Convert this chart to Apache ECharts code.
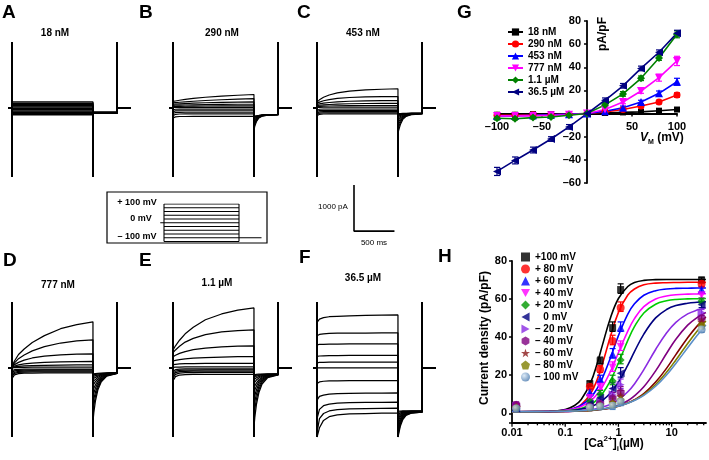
<!DOCTYPE html>
<html><head><meta charset="utf-8">
<script src="https://cdn.jsdelivr.net/npm/echarts@6/dist/echarts.min.js"></script>
<style>html,body{margin:0;padding:0;background:#fff}#c{width:709px;height:460px}</style>
</head><body><div id="c"></div>
<script>
// ================= DATA =================
// Voltage-clamp traces (pA) at the sample times of the test pulse and of the tail
const stepVoltages = [100, 80, 60, 40, 20, 0, -20, -40, -60, -80, -100];
const pulseTimes = [0, 30, 80, 150, 250, 400, 600, 800, 1000];
const tailTimes = [1000, 1010, 1030, 1060, 1100, 1170, 1300];

const traceA = [
  [130,130,130,130,130,130,130,130,130],
  [102,102,102,102,102,102,102,102,102],
  [74,74,74,74,74,74,74,74,74],
  [46,46,46,46,46,46,46,46,46],
  [18,18,18,18,18,18,18,18,18],
  [-10,-10,-10,-10,-10,-10,-10,-10,-10],
  [-38,-38,-38,-38,-38,-38,-38,-38,-38],
  [-66,-66,-66,-66,-66,-66,-66,-66,-66],
  [-94,-94,-94,-94,-94,-94,-94,-94,-94],
  [-122,-122,-122,-122,-122,-122,-122,-122,-122],
  [-150,-150,-150,-150,-150,-150,-150,-150,-150]];
const tailA = [
  [-95,-95,-95,-95,-95,-95,-95],[-97,-97,-97,-97,-97,-97,-97],[-99,-99,-99,-99,-99,-99,-99],
  [-101,-101,-101,-101,-101,-101,-101],[-103,-103,-103,-103,-103,-103,-103],[-105,-105,-105,-105,-105,-105,-105],
  [-107,-107,-107,-107,-107,-107,-107],[-109,-109,-109,-109,-109,-109,-109],[-111,-111,-111,-111,-111,-111,-111],
  [-113,-113,-113,-113,-113,-113,-113],[-115,-115,-115,-115,-115,-115,-115]];

const traceB = [
  [140,150,165,185,205,230,255,275,290],
  [110,115,122,132,145,160,176,190,200],
  [80,83,88,94,102,112,120,126,130],
  [55,57,60,63,67,72,76,78,80],
  [30,31,33,35,38,41,43,45,45],
  [10,10,10,10,10,10,10,10,10],
  [-40,-30,-28,-28,-28,-28,-28,-28,-28],
  [-80,-65,-62,-62,-62,-62,-62,-62,-62],
  [-120,-100,-96,-95,-95,-95,-95,-95,-95],
  [-170,-140,-132,-130,-130,-130,-130,-130,-130],
  [-220,-195,-188,-186,-185,-185,-185,-185,-185]];
const tailB = [
  [-480,-400,-300,-220,-180,-160,-150],
  [-420,-360,-280,-210,-175,-158,-150],
  [-360,-320,-260,-200,-170,-155,-148],
  [-310,-285,-240,-195,-167,-153,-146],
  [-270,-255,-225,-190,-165,-152,-145],
  [-240,-230,-210,-185,-163,-150,-144],
  [-215,-210,-198,-180,-162,-150,-143],
  [-200,-196,-188,-176,-160,-149,-142],
  [-190,-187,-181,-172,-158,-148,-141],
  [-182,-180,-175,-168,-156,-147,-140],
  [-175,-173,-170,-164,-154,-146,-140]];

const traceC = [
  [125,175,230,280,325,365,392,405,415],
  [100,125,155,180,205,225,238,243,245],
  [75,88,103,118,132,145,153,158,160],
  [50,57,65,74,82,90,96,99,100],
  [30,34,38,42,46,49,51,52,52],
  [10,12,13,14,15,15,15,15,15],
  [-50,-30,-25,-25,-25,-25,-25,-25,-25],
  [-80,-60,-55,-55,-55,-55,-55,-55,-55],
  [-110,-88,-82,-80,-80,-80,-80,-80,-80],
  [-140,-115,-108,-105,-105,-105,-105,-105,-105],
  [-170,-140,-132,-130,-130,-130,-130,-130,-130]];
const tailC = [
  [-565,-480,-360,-250,-185,-145,-130],
  [-470,-410,-320,-230,-175,-142,-128],
  [-390,-350,-280,-210,-165,-138,-126],
  [-320,-295,-245,-195,-158,-135,-124],
  [-265,-245,-215,-180,-150,-132,-122],
  [-220,-205,-185,-165,-143,-128,-120],
  [-185,-175,-162,-150,-137,-124,-118],
  [-160,-155,-147,-140,-132,-121,-116],
  [-145,-142,-138,-133,-127,-119,-114],
  [-135,-133,-130,-127,-122,-116,-112],
  [-125,-124,-122,-120,-117,-113,-110]];

const traceD = [
  [30,150,290,410,550,700,850,940,1000],
  [25,110,200,280,370,460,540,585,610],
  [20,70,120,170,215,255,285,298,305],
  [15,40,65,85,105,120,132,137,140],
  [10,20,32,42,50,57,62,64,65],
  [0,5,10,12,14,15,15,15,15],
  [-60,-40,-30,-27,-25,-25,-25,-25,-25],
  [-100,-65,-52,-48,-46,-45,-45,-45,-45],
  [-140,-95,-75,-70,-67,-66,-65,-65,-65],
  [-180,-120,-98,-90,-87,-86,-85,-85,-85],
  [-230,-150,-125,-115,-112,-110,-110,-110,-110]];
const tailD = [
  [-1170,-980,-720,-480,-310,-180,-120],
  [-960,-820,-620,-430,-285,-170,-118],
  [-780,-680,-530,-380,-260,-162,-116],
  [-620,-550,-440,-330,-235,-155,-114],
  [-490,-440,-370,-285,-210,-148,-112],
  [-380,-350,-300,-245,-190,-140,-110],
  [-300,-280,-250,-210,-170,-133,-108],
  [-240,-225,-205,-180,-155,-127,-106],
  [-190,-180,-168,-155,-140,-120,-104],
  [-155,-150,-142,-135,-125,-113,-102],
  [-130,-128,-124,-120,-115,-108,-100]];

const traceE = [
  [390,480,600,740,880,1045,1170,1255,1300],
  [330,390,470,560,640,720,780,810,825],
  [240,275,315,355,395,430,458,472,480],
  [150,165,180,195,210,225,236,242,245],
  [70,78,85,90,94,97,99,100,100],
  [10,15,18,20,20,20,20,20,20],
  [-70,-40,-28,-22,-20,-20,-20,-20,-20],
  [-120,-70,-55,-48,-46,-45,-45,-45,-45],
  [-170,-105,-82,-75,-72,-70,-70,-70,-70],
  [-220,-140,-112,-104,-101,-100,-100,-100,-100],
  [-280,-190,-155,-145,-142,-140,-140,-140,-140]];
const tailE = [
  [-1280,-1080,-800,-540,-350,-210,-150],
  [-1050,-900,-680,-470,-310,-195,-148],
  [-850,-740,-570,-410,-280,-185,-146],
  [-680,-600,-480,-350,-250,-175,-144],
  [-540,-480,-400,-300,-225,-165,-142],
  [-420,-380,-330,-260,-200,-158,-140],
  [-330,-300,-265,-220,-180,-150,-138],
  [-260,-240,-215,-190,-165,-145,-136],
  [-210,-195,-180,-165,-152,-140,-134],
  [-175,-168,-160,-150,-142,-136,-132],
  [-150,-147,-143,-138,-135,-132,-130]];

const traceF = [
  [990,1060,1090,1110,1120,1130,1138,1145,1150],
  [700,725,740,748,752,755,757,759,760],
  [500,508,513,516,518,519,520,520,520],
  [250,258,263,266,268,269,270,270,270],
  [110,118,121,123,124,125,125,125,125],
  [0,0,0,0,0,0,0,0,0],
  [-340,-305,-290,-283,-280,-278,-277,-276,-275],
  [-700,-620,-590,-570,-558,-551,-548,-546,-545],
  [-1100,-900,-820,-785,-765,-755,-750,-747,-745],
  [-1400,-1100,-990,-935,-905,-890,-882,-878,-875],
  [-1500,-1300,-1140,-1060,-1020,-1000,-990,-983,-980]];
const tailF = [
  [-1500,-1420,-1260,-1120,-1030,-980,-960],
  [-1460,-1370,-1220,-1090,-1015,-975,-958],
  [-1400,-1310,-1180,-1065,-1000,-970,-955],
  [-1330,-1250,-1140,-1040,-990,-965,-952],
  [-1260,-1190,-1100,-1020,-980,-960,-950],
  [-1190,-1130,-1060,-1000,-970,-955,-948],
  [-1120,-1080,-1025,-985,-962,-950,-945],
  [-1060,-1035,-1000,-972,-955,-946,-942],
  [-1010,-995,-975,-960,-948,-942,-940],
  [-970,-960,-952,-946,-942,-938,-936],
  [-940,-938,-936,-935,-934,-933,-932]];

// Protocol inset (mV) and scale bar
const protoTailV = -80;
const scaleBarPA = 1000;
const scaleBarMs = 500;

// Panel G: I-V relations (pA/pF)
const gVoltages = [-100, -80, -60, -40, -20, 0, 20, 40, 60, 80, 100];
const g18 = [-1, -1, -0.5, -0.5, -0.5, 0, 0.5, 1, 1.5, 2.5, 3.5];
const g290 = [-1.5, -1.5, -1, -1, -0.5, 0, 1.5, 3.5, 6.5, 10, 16];
const g453 = [-2, -2, -1.5, -1, -0.5, 0, 2, 5, 10, 17.5, 27.5];
const g777 = [-2, -2, -2, -1.5, -1, 0, 3.5, 10, 19.5, 31, 45.5];
const g1p1 = [-4, -4.5, -3.5, -3, -1.5, 0, 7.5, 17, 30.5, 48, 68.5];
const g36p5 = [-50, -40.5, -31.5, -22, -11.5, 0, 11.5, 24, 39, 53, 69.5];
const g18Err = [1, 1, 1, 1, 1, 0.5, 1, 1, 1, 1, 1.5];
const g290Err = [1, 1, 1, 1, 1, 0.5, 1, 1, 1.5, 1.5, 2];
const g453Err = [1, 1, 1, 1, 1, 0.5, 1, 1.5, 1.5, 2, 3];
const g777Err = [1, 1, 1, 1, 1, 0.5, 1, 1.5, 2, 3, 4];
const g1p1Err = [1.5, 1, 1, 1, 1, 0.5, 1.5, 2, 2, 2, 3];
const g36p5Err = [3.5, 3, 2.5, 2, 2, 1, 2, 2, 2, 2, 2.5];

// Panel H: Ca-dependence (pA/pF)
const hConc = [0.012, 0.29, 0.453, 0.777, 1.1, 36.5];
const hP100 = [3.5, 15.5, 27.5, 45, 65, 70];
const hP80 = [3.5, 14, 23, 38, 55.5, 68];
const hP60 = [3, 11, 18, 31, 45, 65];
const hP40 = [3, 8, 14, 24, 35, 62];
const hP20 = [3, 6, 10, 17, 28, 59];
const h0 = [2.5, 5, 8, 13, 21, 57];
const hM20 = [4, 4, 6, 10, 15, 53];
const hM40 = [4.5, 3.5, 5, 8, 11, 50];
const hM60 = [3, 3.5, 4.5, 6, 9, 48];
const hM80 = [3, 3, 4, 5, 7, 46];
const hM100 = [2.5, 3, 3.5, 4, 6, 44];
const hErrHi = [1.5, 1.5, 2, 3, 3, 1.5];
const hErrLo = [1, 1, 1.5, 2, 2, 1.5];

// fitted curves
const hFitX = [0.01, 0.05, 0.1, 0.15, 0.2, 0.3, 0.4, 0.5, 0.7, 1, 1.5, 2, 3, 5, 8, 12, 20, 30, 44];
const fitP100 = [0.8, 1.0, 2.0, 4.1, 7.2, 16.1, 26.3, 35.8, 49.7, 60.3, 66.6, 68.7, 69.8, 70.2, 70.3, 70.3, 70.3, 70.3, 70.3];
const fitP80 = [0.8, 0.9, 1.5, 2.7, 4.6, 10.3, 17.8, 25.9, 39.9, 53.0, 62.1, 65.3, 67.5, 68.4, 68.6, 68.7, 68.8, 68.8, 68.8];
const fitP60 = [0.8, 1.0, 1.6, 2.7, 4.2, 8.2, 13.1, 18.5, 28.8, 40.8, 52.1, 57.5, 62.0, 64.4, 65.3, 65.6, 65.7, 65.8, 65.8];
const fitP40 = [0.8, 1.0, 1.6, 2.4, 3.6, 6.5, 10.0, 13.9, 21.7, 31.8, 43.2, 49.7, 56.0, 60.0, 61.6, 62.3, 62.6, 62.7, 62.8];
const fitP20 = [0.8, 0.9, 1.25, 1.8, 2.5, 4.6, 7.2, 10.3, 16.9, 26.4, 38.3, 45.5, 52.7, 57.3, 59.1, 59.8, 60.1, 60.2, 60.3];
const fit0 = [0.8, 0.9, 1.2, 1.6, 2.2, 3.4, 5.0, 6.7, 10.5, 16.4, 25.3, 32.4, 41.6, 50.1, 54.5, 56.6, 57.8, 58.3, 58.6];
const fitM20 = [0.8, 0.9, 1.0, 1.2, 1.4, 1.9, 2.5, 3.2, 4.6, 7.0, 11.3, 15.4, 22.9, 33.5, 42.2, 47.8, 52.2, 54.2, 55.4];
const fitM40 = [0.8, 0.8, 0.95, 1.05, 1.2, 1.5, 1.8, 2.2, 2.9, 4.2, 6.6, 9.1, 13.9, 22.3, 31.4, 38.9, 46.3, 50.3, 52.9];
const fitM60 = [0.8, 0.9, 1.0, 1.1, 1.25, 1.5, 1.8, 2.1, 2.7, 3.7, 5.4, 7.1, 10.3, 16.4, 23.6, 30.8, 39.7, 45.8, 50.6];
const fitM80 = [0.8, 0.9, 1.05, 1.2, 1.35, 1.6, 1.9, 2.2, 2.9, 3.8, 5.4, 6.9, 9.8, 15.1, 21.5, 28.0, 36.7, 43.1, 48.5];
const fitM100 = [0.8, 0.9, 1.1, 1.2, 1.4, 1.7, 2.0, 2.3, 2.9, 3.8, 5.3, 6.7, 9.4, 14.2, 20.1, 26.2, 34.4, 40.8, 46.4];

const hMajorTicks = [0.01, 0.1, 1, 10];
const hMinorTicks = [0.02,0.03,0.04,0.05,0.06,0.07,0.08,0.09,0.2,0.3,0.4,0.5,0.6,0.7,0.8,0.9,2,3,4,5,6,7,8,9,20,30,40];

// ================= LAYOUT / STYLE =================
const FONT = '"Liberation Sans", Arial, Helvetica, sans-serif';
const T_MIN = -50, T_MAX = 1470, I_MIN = -1500, I_MAX = 1430;
const TW = 123, TH = 135;
const pxPerMs = TW / (T_MAX - T_MIN), pxPerPA = TH / (I_MAX - I_MIN);

const panels = [
  { pulse: traceA, tail: tailA, left: 8, top: 42, lw: 1.4 },
  { pulse: traceB, tail: tailB, left: 169, top: 42, lw: 1.15 },
  { pulse: traceC, tail: tailC, left: 313, top: 42, lw: 1.15 },
  { pulse: traceD, tail: tailD, left: 8, top: 302, lw: 1.25 },
  { pulse: traceE, tail: tailE, left: 169, top: 302, lw: 1.25 },
  { pulse: traceF, tail: tailF, left: 313, top: 302, lw: 1.25 }
];

function buildTrace(p, t) {
  const d = [[T_MIN, 0], [0, 0], [0, I_MAX], [0, I_MIN]];
  pulseTimes.forEach((tm, i) => d.push([tm, p[i]]));
  d.push([pulseTimes[pulseTimes.length - 1], I_MIN]);
  tailTimes.forEach((tm, i) => d.push([tm, t[i]]));
  const te = tailTimes[tailTimes.length - 1];
  d.push([te, I_MAX], [te, 0], [T_MAX, 0]);
  return d;
}

const grids = [], xAxes = [], yAxes = [], series = [];

panels.forEach((pn, gi) => {
  grids.push({ left: pn.left, top: pn.top, width: TW, height: TH });
  xAxes.push({ gridIndex: gi, type: 'value', min: T_MIN, max: T_MAX, show: false });
  yAxes.push({ gridIndex: gi, type: 'value', min: I_MIN, max: I_MAX, show: false });
  stepVoltages.forEach((v, k) => {
    series.push({ type: 'line', xAxisIndex: gi, yAxisIndex: gi, data: buildTrace(pn.pulse[k], pn.tail[k]),
      symbol: 'none', silent: true, lineStyle: { color: '#000', width: pn.lw }, z: 2 });
  });
});

// protocol inset grid (index 6)
const PG = 6;
const protoMsW = 75 / 1000;
grids.push({ left: 164 - 50 * protoMsW, top: 204, width: 1350 * protoMsW, height: 37.5 });
xAxes.push({ gridIndex: PG, type: 'value', min: -50, max: 1300, show: false });
yAxes.push({ gridIndex: PG, type: 'value', min: -100, max: 100, show: false });
const protoLine = (data) => ({ type: 'line', xAxisIndex: PG, yAxisIndex: PG, data, symbol: 'none', silent: true,
  lineStyle: { color: '#000', width: 1.1 } });
stepVoltages.forEach(v => series.push(protoLine([[0, v], [1000, v]])));
series.push(protoLine([[0, -100], [0, 100]]));
series.push(protoLine([[1000, 100], [1000, -100]]));
series.push(protoLine([[1000, protoTailV], [1300, protoTailV]]));
series.push(protoLine([[-50, 0], [0, 0]]));

// scale bar grid (index 7)
const SG = 7;
grids.push({ left: 354, top: 185, width: scaleBarMs * pxPerMs, height: scaleBarPA * pxPerPA });
xAxes.push({ gridIndex: SG, type: 'value', min: 0, max: scaleBarMs, show: false });
yAxes.push({ gridIndex: SG, type: 'value', min: 0, max: scaleBarPA, show: false });
series.push({ type: 'line', xAxisIndex: SG, yAxisIndex: SG, data: [[0, scaleBarPA], [0, 0], [scaleBarMs, 0]],
  symbol: 'none', silent: true, clip: false, lineStyle: { color: '#000', width: 1.6 } });

// Panel G (index 8)
const GG = 8;
const labelStyle = { color: '#000', fontSize: 11, fontWeight: 'bold', fontFamily: FONT };
const lineStyleAx = { color: '#000', width: 1.8 };
const tickStyle = { show: true, length: 3, lineStyle: { color: '#000', width: 1.5 } };
const dashNum = v => (v < 0 ? '\u2013' + Math.abs(v) : '' + v);
const G_X = [-100, 100], G_Y = [-60, 80], G_BOX = { left: 497, top: 21, width: 180, height: 162 };
grids.push(G_BOX);
// place each axis on the other's zero through an offset computed from the axis ranges
const gXOffset = -((0 - G_Y[0]) / (G_Y[1] - G_Y[0])) * G_BOX.height;
const gYOffset = -((0 - G_X[0]) / (G_X[1] - G_X[0])) * G_BOX.width;
xAxes.push({ gridIndex: GG, type: 'value', min: G_X[0], max: G_X[1], interval: 50, position: 'bottom', offset: gXOffset,
  axisLine: { onZero: false, lineStyle: lineStyleAx }, axisTick: tickStyle, splitLine: { show: false },
  axisLabel: Object.assign({}, labelStyle, { margin: 8, formatter: v => (v === 0 ? '' : dashNum(v)) }) });
yAxes.push({ gridIndex: GG, type: 'value', min: G_Y[0], max: G_Y[1], interval: 20, position: 'left', offset: gYOffset,
  axisLine: { onZero: false, lineStyle: lineStyleAx }, axisTick: tickStyle, splitLine: { show: false },
  axisLabel: Object.assign({}, labelStyle, { margin: 6, formatter: v => (v === 0 ? '' : dashNum(v)) }) });

const P_DOWN = 'path://M0,0 L10,0 L5,9 Z';
const P_LEFT = 'path://M9,0 L9,10 L0,5 Z';
const P_RIGHT = 'path://M0,0 L0,10 L9,5 Z';
const P_STAR = 'path://M5,0 L6.2,3.6 L10,3.6 L7,5.9 L8.1,9.5 L5,7.3 L1.9,9.5 L3,5.9 L0,3.6 L3.8,3.6 Z';
const P_HEX = 'path://M5,0 L9.33,2.5 L9.33,7.5 L5,10 L0.67,7.5 L0.67,2.5 Z';
const P_PENT = 'path://M5,0 L10,3.8 L8.1,10 L1.9,10 L0,3.8 Z';

function errSeries(xi, yi, data, color, cap, z) {
  return { type: 'custom', xAxisIndex: xi, yAxisIndex: yi, data, silent: true, z: z || 3,
    renderItem: (params, api) => {
      const x = api.value(0), lo = api.value(1), hi = api.value(2);
      const a = api.coord([x, hi]), b = api.coord([x, lo]);
      const st = { stroke: color, lineWidth: 1.2 };
      return { type: 'group', children: [
        { type: 'line', shape: { x1: a[0], y1: a[1], x2: b[0], y2: b[1] }, style: st },
        { type: 'line', shape: { x1: a[0] - cap, y1: a[1], x2: a[0] + cap, y2: a[1] }, style: st },
        { type: 'line', shape: { x1: b[0] - cap, y1: b[1], x2: b[0] + cap, y2: b[1] }, style: st }] };
    } };
}

const gDefs = [
  { name: '18 nM', v: g18, e: g18Err, color: '#000000', symbol: 'rect', size: 6 },
  { name: '290 nM', v: g290, e: g290Err, color: '#ff0000', symbol: 'circle', size: 7 },
  { name: '453 nM', v: g453, e: g453Err, color: '#0000ff', symbol: 'triangle', size: 8 },
  { name: '777 nM', v: g777, e: g777Err, color: '#ff00ff', symbol: P_DOWN, size: 8 },
  { name: '1.1 \u00b5M', v: g1p1, e: g1p1Err, color: '#008000', symbol: 'diamond', size: 8 },
  { name: '36.5 \u00b5M', v: g36p5, e: g36p5Err, color: '#000080', symbol: P_LEFT, size: 8 }
];
gDefs.forEach(d => {
  series.push(errSeries(GG, GG, gVoltages.map((x, i) => [x, d.v[i] - d.e[i], d.v[i] + d.e[i]]), d.color, 3, 3));
  series.push({ type: 'line', name: d.name, xAxisIndex: GG, yAxisIndex: GG,
    data: gVoltages.map((x, i) => [x, d.v[i]]), symbol: d.symbol, symbolSize: d.size,
    itemStyle: { color: d.color }, lineStyle: { color: d.color, width: 1.6 }, z: 4 });
});

// Panel H (index 9)
const HG = 9;
grids.push({ left: 512, top: 261, width: 195, height: 161.8 });
xAxes.push({ gridIndex: HG, type: 'log', logBase: 10, min: 0.01, max: 44.2,
  axisLine: { onZero: false, lineStyle: lineStyleAx }, axisTick: { show: false }, splitLine: { show: false },
  axisLabel: Object.assign({}, labelStyle, { margin: 5, formatter: v => {
    const l = Math.log10(v); if (Math.abs(l - Math.round(l)) > 1e-6) return '';
    return ({ '-2': '0.01', '-1': '0.1', '0': '1', '1': '10' })[String(Math.round(l))] || ''; } }) });
yAxes.push({ gridIndex: HG, type: 'value', min: -5, max: 80, splitNumber: 4,
  axisLine: { onZero: false, lineStyle: lineStyleAx }, axisTick: tickStyle, splitLine: { show: false },
  axisLabel: Object.assign({}, labelStyle, { margin: 5, formatter: v => (v % 20 === 0 ? '' + v : '') }) });

const hDefs = [
  { name: '+100 mV', v: hP100, fit: fitP100, color: '#000000', line: '#000000', symbol: 'rect', size: 7 },
  { name: '+ 80 mV', v: hP80, fit: fitP80, color: '#ff0000', line: '#ff0000', symbol: 'circle', size: 8 },
  { name: '+ 60 mV', v: hP60, fit: fitP60, color: '#0000ff', line: '#0000ff', symbol: 'triangle', size: 8 },
  { name: '+ 40 mV', v: hP40, fit: fitP40, color: '#ff00ff', line: '#ff00ff', symbol: P_DOWN, size: 8 },
  { name: '+ 20 mV', v: hP20, fit: fitP20, color: '#009900', line: '#00cc00', symbol: 'diamond', size: 8 },
  { name: '   0 mV', v: h0, fit: fit0, color: '#000080', line: '#000080', symbol: P_LEFT, size: 8 },
  { name: '\u2013 20 mV', v: hM20, fit: fitM20, color: '#8a2be2', line: '#8a2be2', symbol: P_RIGHT, size: 8 },
  { name: '\u2013 40 mV', v: hM40, fit: fitM40, color: '#800080', line: '#800080', symbol: P_HEX, size: 8 },
  { name: '\u2013 60 mV', v: hM60, fit: fitM60, color: '#8b1a1a', line: '#800000', symbol: P_STAR, size: 9 },
  { name: '\u2013 80 mV', v: hM80, fit: fitM80, color: '#808000', line: '#808000', symbol: P_PENT, size: 8 },
  { name: '\u2013 100 mV', v: hM100, fit: fitM100, color: { type: 'radial', x: 0.35, y: 0.35, r: 0.75,
      colorStops: [{ offset: 0, color: '#d6e6f5' }, { offset: 1, color: '#3d70a8' }] }, line: '#5b8fc9', symbol: 'circle', size: 8 }
];
hDefs.forEach(d => {
  series.push({ type: 'line', xAxisIndex: HG, yAxisIndex: HG, data: hFitX.map((x, i) => [x, d.fit[i]]),
    symbol: 'none', smooth: 0.4, silent: true, lineStyle: { color: d.line, width: 1.6 }, z: 2 });
});
hDefs.forEach(d => {
  const ec = typeof d.color === 'string' ? d.color : d.line;
  series.push(errSeries(HG, HG, hConc.map((x, i) => [x, d.v[i] - hErrLo[i], d.v[i] + hErrHi[i]]), ec, 3, 3));
});
hDefs.forEach(d => {
  series.push({ type: 'scatter', name: d.name, xAxisIndex: HG, yAxisIndex: HG,
    data: hConc.map((x, i) => [x, d.v[i]]), symbol: d.symbol, symbolSize: d.size,
    itemStyle: { color: d.color }, z: 5 });
});
function tickSeries(vals, len) {
  return { type: 'custom', xAxisIndex: HG, yAxisIndex: HG, data: vals.map(v => [v, -5]), silent: true, clip: false, z: 6,
    renderItem: (params, api) => {
      const p = api.coord([api.value(0), api.value(1)]);
      return { type: 'line', shape: { x1: p[0], y1: p[1], x2: p[0], y2: p[1] + len },
        style: { stroke: '#000', lineWidth: 1.3 } };
    } };
}
series.push(tickSeries(hMajorTicks, 4));
series.push(tickSeries(hMinorTicks, 2.5));

// ================= TEXT =================
const txt = (text, x, y, size, opts) => Object.assign({ type: 'text', x, y, silent: true,
  style: Object.assign({ text, fill: '#000', fontSize: size, fontWeight: 'bold', fontFamily: FONT,
    align: 'center', verticalAlign: 'middle', textAlign: 'center', textVerticalAlign: 'middle' }, (opts && opts.style) || {}) },
  (opts && opts.el) || {});
const left = { style: { align: 'left', textAlign: 'left' } };

const graphics = [
  txt('A', 2, 13, 19, left), txt('B', 139, 13, 19, left), txt('C', 297, 13, 19, left), txt('G', 457, 13, 19, left),
  txt('D', 3, 261, 19, left), txt('E', 139, 261, 19, left), txt('F', 299, 258, 19, left), txt('H', 438, 257, 19, left),
  txt('18 nM', 55, 33, 10), txt('290 nM', 222, 33, 10), txt('453 nM', 363, 33, 10),
  txt('777 nM', 58, 285, 10), txt('1.1 \u00b5M', 217, 283, 10), txt('36.5 \u00b5M', 363, 278, 10),
  { type: 'rect', silent: true, shape: { x: 107, y: 192, width: 160, height: 51 },
    style: { fill: 'none', stroke: '#000', lineWidth: 1.2 } },
  txt('+ 100 mV', 137, 203, 9), txt('0 mV', 141, 219, 9), txt('\u2013 100 mV', 137, 237, 9),
  txt('1000 pA', 333, 207, 8, { style: { fontWeight: 'normal' } }),
  txt('500 ms', 374, 243, 8, { style: { fontWeight: 'normal' } }),
  txt('pA/pF', 603, 34, 12, { el: { rotation: Math.PI / 2 } }),
  { type: 'text', x: 640, y: 138, silent: true, style: { text: '{i|V}{s|M}{n| (mV)}', fill: '#000', align: 'left',
      verticalAlign: 'middle', textAlign: 'left', textVerticalAlign: 'middle',
      rich: { i: { fontSize: 12, fontStyle: 'italic', fontWeight: 'bold', fontFamily: FONT, lineHeight: 16, verticalAlign: 'middle' },
              s: { fontSize: 7, fontWeight: 'bold', fontFamily: FONT, lineHeight: 16, verticalAlign: 'bottom' },
              n: { fontSize: 12, fontWeight: 'bold', fontFamily: FONT, lineHeight: 16, verticalAlign: 'middle' } } } },
  txt('Current density (pA/pF)', 485, 338, 12, { el: { rotation: Math.PI / 2 } }),
  { type: 'text', x: 614, y: 444, silent: true, style: { text: '{n|[Ca}{sup|2+}{n|]}{sub|i}{n|(\u00b5M)}', fill: '#000',
      align: 'center', verticalAlign: 'middle', textAlign: 'center', textVerticalAlign: 'middle',
      rich: { n: { fontSize: 12, fontWeight: 'bold', fontFamily: FONT, lineHeight: 18, verticalAlign: 'middle' },
              sup: { fontSize: 8, fontWeight: 'bold', fontFamily: FONT, lineHeight: 18, verticalAlign: 'top' },
              sub: { fontSize: 8, fontWeight: 'bold', fontFamily: FONT, lineHeight: 18, verticalAlign: 'bottom' } } } }
];

const chart = echarts.init(document.getElementById('c'), null, { renderer: 'canvas' });
chart.setOption({
  animation: false,
  backgroundColor: '#fff',
  grid: grids, xAxis: xAxes, yAxis: yAxes, series,
  legend: [
    { data: gDefs.map(d => d.name), orient: 'vertical', left: 502, top: 22, padding: 5,
      itemWidth: 15, itemHeight: 9, itemGap: 2, selectedMode: false,
      textStyle: { fontSize: 10, fontWeight: 'bold', fontFamily: FONT, color: '#000', lineHeight: 9 } },
    { data: hDefs.map(d => d.name), orient: 'vertical', left: 516, top: 247, padding: 5,
      itemWidth: 9, itemHeight: 9, itemGap: 2, selectedMode: false,
      textStyle: { fontSize: 10, fontWeight: 'bold', fontFamily: FONT, color: '#000', lineHeight: 9 } }
  ],
  graphic: graphics
});
</script></body></html>
